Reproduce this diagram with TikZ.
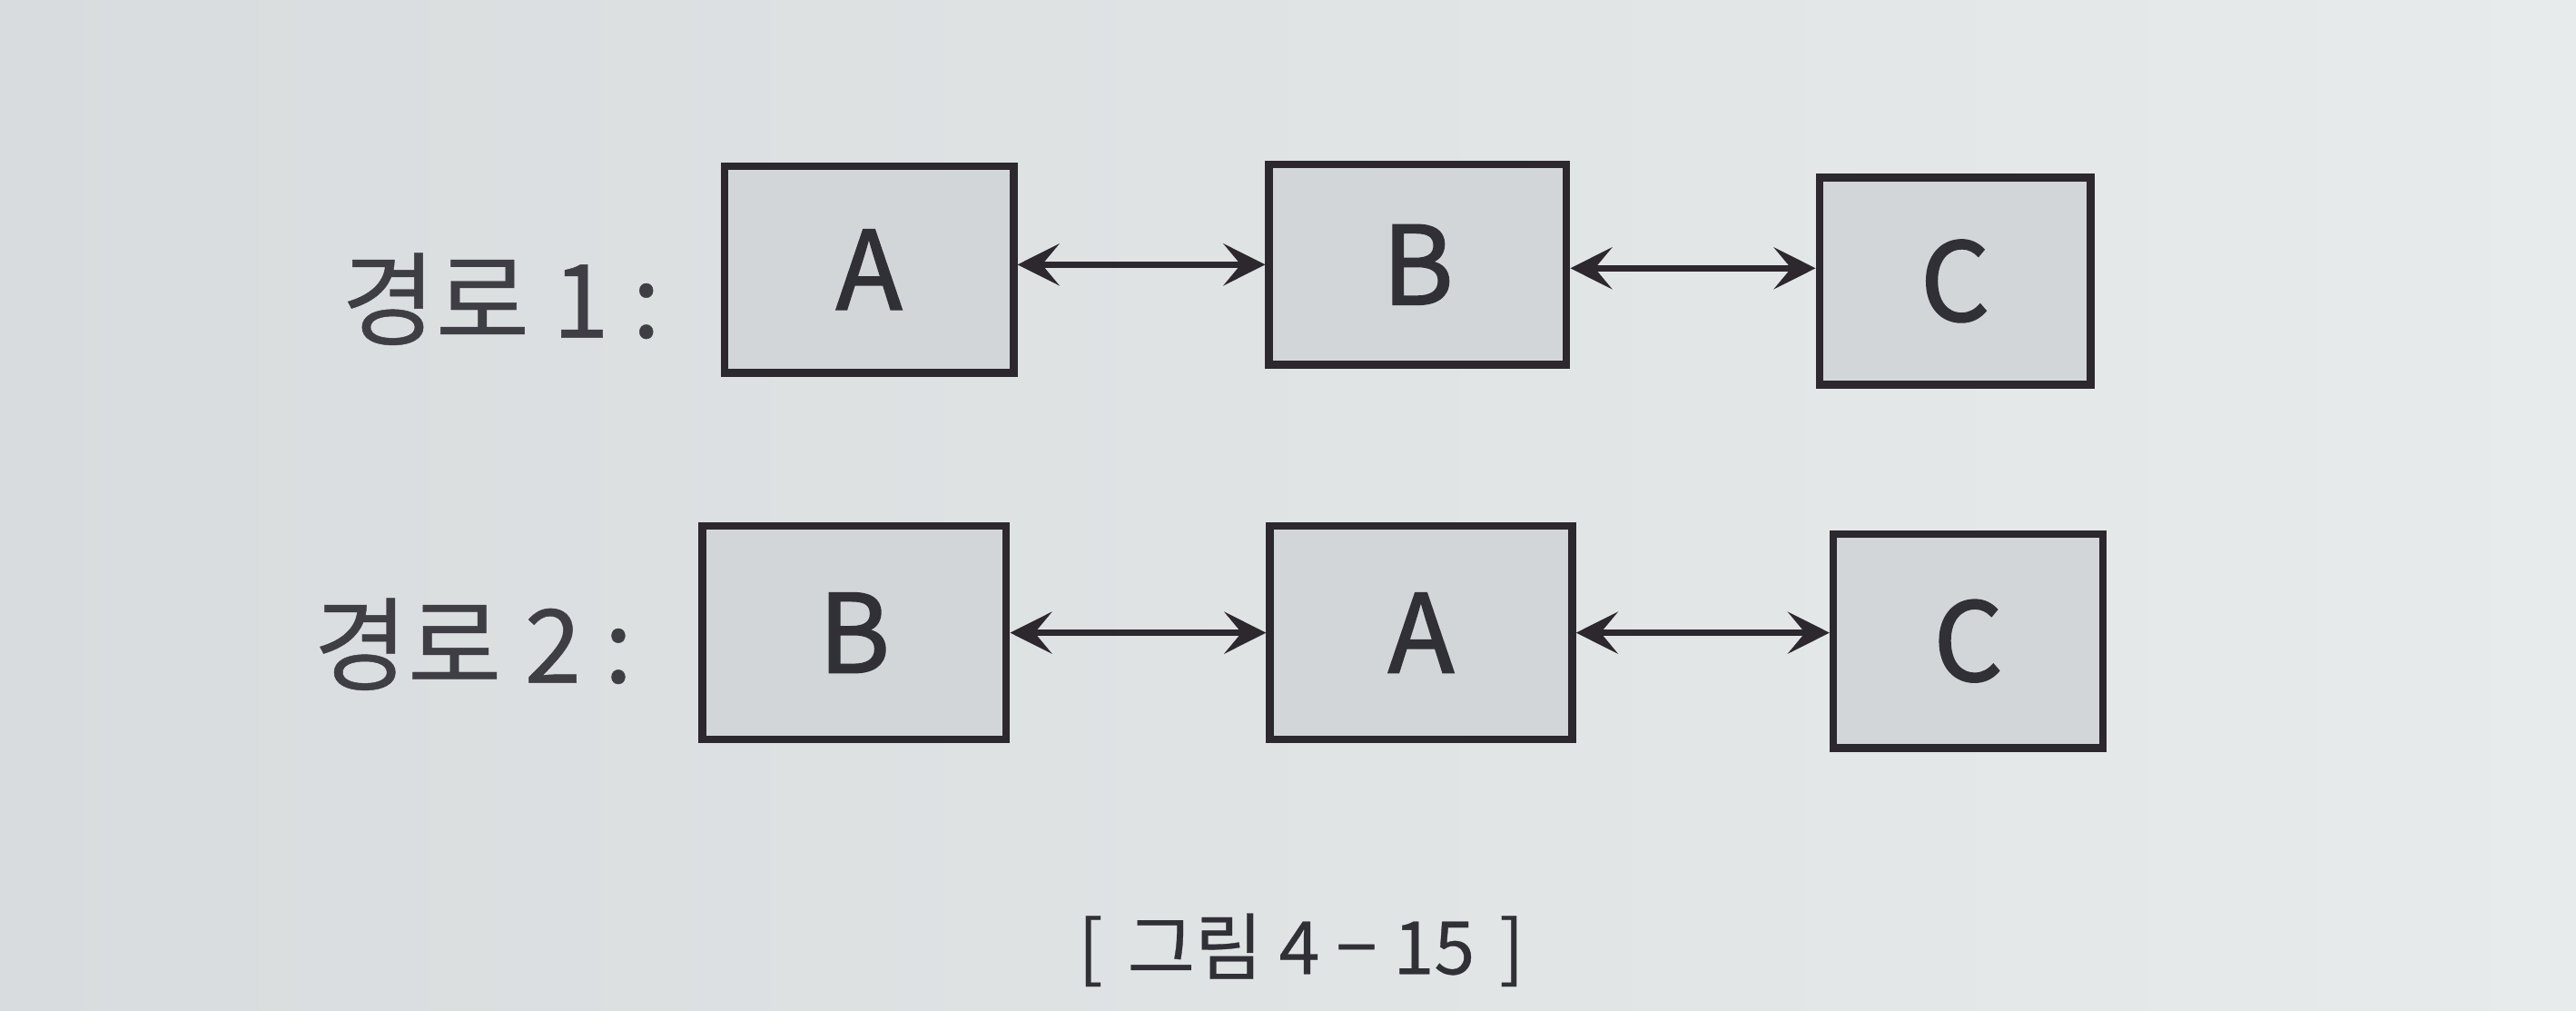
\documentclass[tikz,border=0pt]{standalone}
\usepackage{fontspec}
\setmainfont{Noto Sans CJK KR}
\newfontfamily\boxfont[FakeBold=1.6]{Noto Sans CJK KR}
\newfontfamily\lblfont[FakeBold=0.4]{Noto Sans CJK KR}
\usetikzlibrary{arrows.meta}
\definecolor{paperL}{RGB}{216,220,222}
\definecolor{paperR}{RGB}{232,235,235}
\definecolor{boxfill}{RGB}{210,214,216}
\definecolor{ink}{RGB}{44,40,46}
\definecolor{txt}{RGB}{48,48,54}
\definecolor{lbl}{RGB}{62,62,68}
\tikzset{
  pbox/.style={draw=ink, line width=0.85mm, fill=boxfill, rectangle, inner sep=0pt,
    font=\boxfont\fontsize{34}{34}\selectfont, text=txt},
  conn/.style={draw=ink, line width=0.65mm,
    {Stealth[length=4.6mm, width=4.6mm, inset=1.9mm]}-{Stealth[length=4.6mm, width=4.6mm, inset=1.9mm]}},
  rowlbl/.style={font=\lblfont\fontsize{32}{32}\selectfont, text=lbl, anchor=center},
  figcap/.style={font=\lblfont\fontsize{23}{23}\selectfont, text=txt}
}
\begin{document}
\begin{tikzpicture}[x=0.1809mm, y=-0.1809mm]
\useasboundingbox (0,0) rectangle (1568,615);
\shade[left color=paperL, right color=paperR] (0,0) rectangle (1568,615);
% row 1
\node[pbox, minimum width={176*0.1809mm}, minimum height={126*0.1809mm}] (a1) at (529,164) {A};
\node[pbox, minimum width={181*0.1809mm}, minimum height={122*0.1809mm}] (b1) at (863,161) {B};
\node[pbox, minimum width={165*0.1809mm}, minimum height={126*0.1809mm}] (c1) at (1190,171) {C};
\draw[conn] (a1.east |- b1.center) -- (b1.west);
\draw[conn] ([yshift=-0.4mm]b1.east) -- ([yshift=-0.4mm]b1.east -| c1.west);
\node[rowlbl] (l1) at (305,182) {경로 1 :};
% row 2
\node[pbox, minimum width={185*0.1809mm}, minimum height={130*0.1809mm}] (b2) at (520,385) {B};
\node[pbox, minimum width={184*0.1809mm}, minimum height={130*0.1809mm}] (a2) at (865,385) {A};
\node[pbox, minimum width={164*0.1809mm}, minimum height={130*0.1809mm}] (c2) at (1198,390) {C};
\draw[conn] (b2) -- (a2);
\draw[conn] (a2.east) -- (a2.east -| c2.west);
\node[rowlbl] (l2) at (288,392) {경로 2 :};
% caption
\node[figcap] (fig) at (792,578) {[\,\,그림 4 − 15\,\,]};
\end{tikzpicture}
\end{document}
